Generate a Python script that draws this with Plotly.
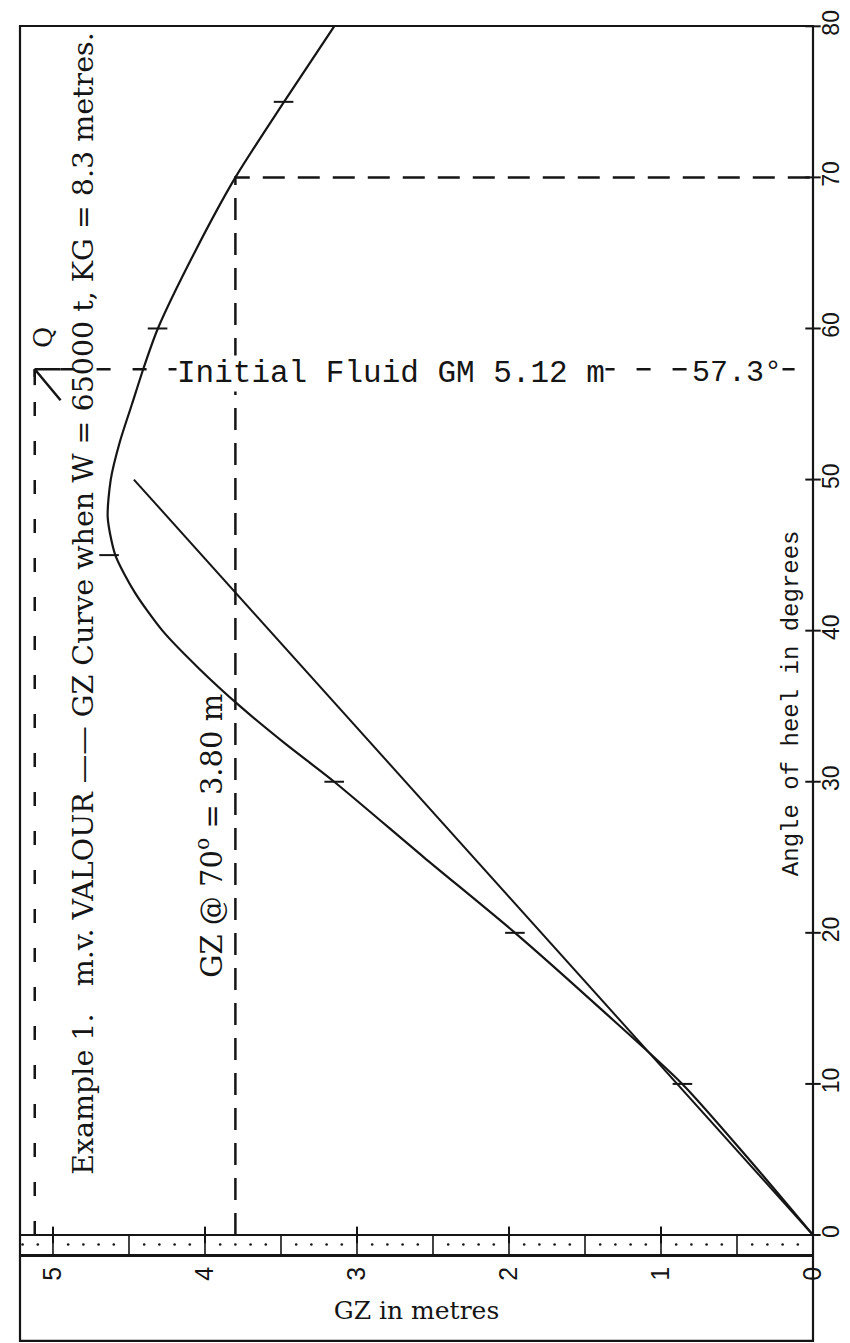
import plotly.graph_objects as go

# ---------------- data ----------------
angle_deg = [0, 5, 10, 15, 20, 25, 30, 32.5, 35, 37.5, 40, 42.5, 45, 47.5, 50,
             52.5, 55, 57.5, 60, 65, 70, 75, 80]
gz_m = [0, 0.42, 0.86, 1.40, 1.96, 2.56, 3.15, 3.47, 3.77, 4.04, 4.28, 4.46,
        4.59, 4.64, 4.62, 4.56, 4.48, 4.40, 4.31, 4.07, 3.80, 3.48, 3.15]

table_angle = [10, 20, 30, 45, 60, 75]
table_gz = [0.859, 1.961, 3.150, 4.631, 4.312, 3.483]

Q_GZ = 5.12          # initial fluid GM
Q_ANGLE = 57.3       # one radian
GZ_70 = 3.80
ANGLE_70 = 70
OQ_END_ANGLE = 50

angle_ticks = [0, 10, 20, 30, 40, 50, 60, 70, 80]
angle_tick_labels = ["0", "10", "20", "30", "40", "50", "60", "70", "80"]
gz_ticks = [0, 1, 2, 3, 4, 5]
gz_tick_labels = ["0", "1", "2", "3", "4", "5"]

GZ_MAX = 5.217
ANG_MIN = -1.257
ANG_MAX = 80.02
STRIP_STEP = 0.5
DOT_STEP = 0.1

# ---------------- figure ----------------
fig = go.Figure()
BLACK = "#151515"

# dashed construction lines
fig.add_trace(go.Scatter(x=[Q_GZ, Q_GZ], y=[0, Q_ANGLE], mode="lines",
                         line=dict(color=BLACK, width=2.5, dash="14px,25px"),
                         hoverinfo="skip"))
fig.add_trace(go.Scatter(x=[Q_GZ - 0.17, 0], y=[Q_ANGLE, Q_ANGLE], mode="lines",
                         line=dict(color=BLACK, width=2.5, dash="14px,22px"),
                         hoverinfo="skip"))
fig.add_trace(go.Scatter(x=[GZ_70, GZ_70, 0], y=[0, ANGLE_70, ANGLE_70], mode="lines",
                         line=dict(color=BLACK, width=2.5, dash="22px,13px"),
                         hoverinfo="skip"))

# line OQ (tangent at origin)
fig.add_trace(go.Scatter(x=[0, Q_GZ * OQ_END_ANGLE / Q_ANGLE], y=[0, OQ_END_ANGLE],
                         mode="lines", line=dict(color=BLACK, width=2),
                         hoverinfo="skip"))

# GZ curve
fig.add_trace(go.Scatter(x=gz_m, y=angle_deg, mode="lines",
                         line=dict(color=BLACK, width=2.2, shape="spline", smoothing=0.7),
                         hoverinfo="skip"))
fig.add_trace(go.Scatter(x=table_gz, y=table_angle, mode="markers",
                         marker=dict(symbol="line-ew", size=14,
                                     line=dict(color=BLACK, width=2)),
                         hoverinfo="skip"))

# arrow pointing at Q
fig.add_trace(go.Scatter(
    x=[Q_GZ - 0.17, Q_GZ, Q_GZ - 0.17, None, Q_GZ, Q_GZ],
    y=[Q_ANGLE - 2.05, Q_ANGLE, Q_ANGLE, None, Q_ANGLE, Q_ANGLE - 1.05],
    mode="lines", line=dict(color=BLACK, width=2.5), hoverinfo="skip",
    cliponaxis=False))

# angle axis cross ticks
fig.add_trace(go.Scatter(x=[0] * len(angle_ticks), y=angle_ticks, mode="markers",
                         marker=dict(symbol="line-ew", size=11,
                                     line=dict(color=BLACK, width=2)),
                         cliponaxis=False, hoverinfo="skip"))
# GZ major ticks above the strip
fig.add_trace(go.Scatter(x=gz_ticks, y=[0] * len(gz_ticks), mode="markers",
                         marker=dict(symbol="line-ns", size=12,
                                     line=dict(color=BLACK, width=2)),
                         cliponaxis=False, hoverinfo="skip"))
# strip dots
n_dots = int(round(GZ_MAX / DOT_STEP))
dot_x = [round(i * DOT_STEP, 2) for i in range(1, n_dots + 1)
         if abs((i * DOT_STEP / STRIP_STEP) - round(i * DOT_STEP / STRIP_STEP)) > 1e-6]
fig.add_trace(go.Scatter(x=dot_x, y=[ANG_MIN / 2] * len(dot_x), mode="markers",
                         marker=dict(symbol="circle", size=2.6, color=BLACK),
                         hoverinfo="skip"))

shapes = []
# outer frame
shapes.append(dict(type="rect", xref="paper", yref="paper", x0=0, x1=1,
                   y0=-0.0708, y1=1, line=dict(color=BLACK, width=2.2)))
# strip top line (angle 0)
shapes.append(dict(type="line", xref="paper", yref="y", x0=0, x1=1, y0=0, y1=0,
                   line=dict(color=BLACK, width=2)))
# strip dividers
n_div = int(GZ_MAX / STRIP_STEP)
for i in range(1, n_div + 1):
    xv = i * STRIP_STEP
    shapes.append(dict(type="line", xref="x", yref="y", x0=xv, x1=xv,
                       y0=ANG_MIN, y1=0, line=dict(color=BLACK, width=1.6)))

annotations = [
    dict(text="Example 1.\u00a0\u00a0 m.v. VALOUR \u2014\u2014 GZ Curve when W = 65000 t, KG = 8.3 metres.",
         x=4.80, y=41.8, xref="x", yref="y", textangle=-90, showarrow=False,
         font=dict(family="DejaVu Serif", size=28.5, color=BLACK)),
    dict(text="GZ @ 70<sup>o</sup> = 3.80 m", x=3.97, y=26.4, xref="x", yref="y",
         textangle=-90, showarrow=False,
         font=dict(family="DejaVu Serif", size=29, color=BLACK)),
    dict(text="Angle of heel in degrees", x=0.145, y=35.2, xref="x", yref="y",
         textangle=-90, showarrow=False,
         font=dict(family="Liberation Mono", size=24, color=BLACK)),
    dict(text="Initial Fluid GM 5.12 m", x=4.19, y=Q_ANGLE, xref="x", yref="y",
         xanchor="left", yshift=-4, showarrow=False, bgcolor="white", borderpad=0,
         font=dict(family="Liberation Mono", size=31, color=BLACK)),
    dict(text="57.3\u00b0", x=0.2, y=Q_ANGLE, xref="x", yref="y",
         xanchor="right", yshift=-4, showarrow=False, bgcolor="white", borderpad=0,
         font=dict(family="Liberation Mono", size=30, color=BLACK)),
    dict(text="Q", x=5.07, y=59.4, xref="x", yref="y", textangle=-90,
         showarrow=False, font=dict(family="DejaVu Serif", size=26, color=BLACK)),
]

fig.update_layout(
    width=850, height=1343,
    margin=dict(l=12, r=45, t=18, b=97, autoexpand=False),
    paper_bgcolor="white", plot_bgcolor="white",
    showlegend=False,
    shapes=shapes, annotations=annotations,
    xaxis=dict(range=[GZ_MAX, 0], tickvals=gz_ticks, ticktext=gz_tick_labels,
               tickangle=-90, showgrid=False, zeroline=False, showline=True,
               linecolor=BLACK, linewidth=2.5, ticks="", ticklabeloverflow="allow",
               automargin=False,
               tickfont=dict(family="Liberation Sans", size=25, color=BLACK),
               title=dict(text="GZ in metres", standoff=22,
                          font=dict(family="DejaVu Serif", size=25, color=BLACK))),
    yaxis=dict(range=[ANG_MIN, ANG_MAX], tickvals=angle_ticks, ticktext=angle_tick_labels,
               side="right", tickangle=-90, showgrid=False, zeroline=False,
               showline=False, ticks="", ticklabelstandoff=2, ticklabeloverflow="allow",
               automargin=False,
               tickfont=dict(family="Liberation Sans", size=23, color=BLACK)),
)

fig.write_html("out.html")
